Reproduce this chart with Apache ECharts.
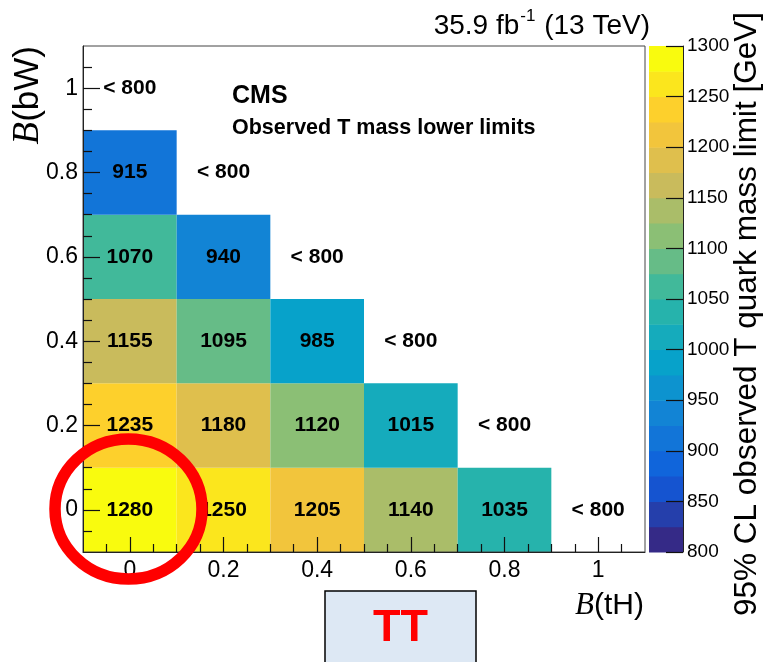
<!DOCTYPE html>
<html><head><meta charset="utf-8">
<script src="https://cdn.jsdelivr.net/npm/echarts@6/dist/echarts.min.js"></script>
<style>html,body{margin:0;padding:0;background:#fff}#c{width:764px;height:662px}</style>
</head><body><div id="c"></div>
<script>
// ---- data ----
const tHValues = [0, 0.2, 0.4, 0.6, 0.8, 1.0];
const bWValues = [0, 0.2, 0.4, 0.6, 0.8, 1.0];
// observed T mass lower limits [GeV]; row index = B(bW), column index = B(tH); null = "< 800"
const limitRows = [
  [1280, 1250, 1205, 1140, 1035, null],
  [1235, 1180, 1120, 1015, null],
  [1155, 1095, 985, null],
  [1070, 940, null],
  [915, null],
  [null]
];
const majorTicks = [0, 0.2, 0.4, 0.6, 0.8, 1.0];
const minorTicks = [-0.05, 0.05, 0.1, 0.15, 0.25, 0.3, 0.35, 0.45, 0.5, 0.55, 0.65, 0.7, 0.75, 0.85, 0.9, 0.95, 1.05];
const colorbarEdges = [800, 825, 850, 875, 900, 925, 950, 975, 1000, 1025, 1050, 1075, 1100, 1125, 1150, 1175, 1200, 1225, 1250, 1275, 1300];
const lowLabel = '< 800';

// ---- build ----
const cells = [], lowCells = [];
limitRows.forEach((row, r) => row.forEach((v, c) => {
  if (v === null) lowCells.push([tHValues[c], bWValues[r]]);
  else cells.push([tHValues[c], bWValues[r], v]);
}));
const halfBin = 0.1;

// ROOT kBird palette
const birdR = [0.2082, 0.0592, 0.0780, 0.0232, 0.1802, 0.5301, 0.8186, 0.9956, 0.9764];
const birdG = [0.1664, 0.3599, 0.5041, 0.6419, 0.7178, 0.7492, 0.7328, 0.7862, 0.9832];
const birdB = [0.5293, 0.8684, 0.8385, 0.7914, 0.6425, 0.4662, 0.3499, 0.1968, 0.0539];
function bird(t) {
  const s = t * 8, i = Math.min(7, Math.floor(s)), f = s - i;
  const c = a => Math.round(255 * (a[i] + (a[i + 1] - a[i]) * f));
  return 'rgb(' + c(birdR) + ',' + c(birdG) + ',' + c(birdB) + ')';
}
const nBands = colorbarEdges.length - 1;
const pieces = [];
for (let i = 0; i < nBands; i++) {
  const p = { gte: colorbarEdges[i], color: bird(i / (nBands - 1)) };
  if (i === nBands - 1) p.lte = colorbarEdges[i + 1]; else p.lt = colorbarEdges[i + 1];
  pieces.push(p);
}
const bandData = [];
for (let i = 0; i < nBands; i++) bandData.push([0.5, colorbarEdges[i], colorbarEdges[i], colorbarEdges[i + 1]]);

const SANS = '"Liberation Sans", Arial, Helvetica, sans-serif';
const SERIF = '"Liberation Serif", "Times New Roman", serif';

const chart = echarts.init(document.getElementById('c'));
const tickFmt = v => String(+(+v).toFixed(2));

chart.setOption({
  animation: false,
  backgroundColor: '#fff',
  grid: [
    { left: 83, top: 46, width: 562, height: 506, show: true, borderColor: '#444', borderWidth: 1, backgroundColor: 'transparent', z: 5 },
    { left: 649, top: 46, width: 34, height: 506, show: false }
  ],
  visualMap: { type: 'piecewise', show: false, dimension: 2, seriesIndex: [0, 2], pieces: pieces },
  xAxis: [
    { gridIndex: 0, type: 'value', min: -0.1, max: 1.1, position: 'bottom',
      axisLine: { show: true, onZero: false, lineStyle: { color: '#222', width: 1 } },
      axisTick: { show: true, inside: true, length: 15, customValues: majorTicks, lineStyle: { color: '#111', width: 1.2 } },
      axisLabel: { show: true, customValues: majorTicks, formatter: tickFmt, fontSize: 23, fontFamily: SANS, color: '#000', margin: 7 },
      splitLine: { show: false }, z: 10 },
    { gridIndex: 0, type: 'value', min: -0.1, max: 1.1, position: 'bottom',
      axisLine: { show: false, onZero: false },
      axisTick: { show: true, inside: true, length: 8, customValues: minorTicks, lineStyle: { color: '#111', width: 1.2 } },
      axisLabel: { show: false }, splitLine: { show: false }, z: 10 },
    { gridIndex: 1, type: 'value', min: 0, max: 1, show: false, axisLine: { onZero: false } }
  ],
  yAxis: [
    { gridIndex: 0, type: 'value', min: -0.1, max: 1.1, position: 'left',
      axisLine: { show: true, onZero: false, lineStyle: { color: '#222', width: 1 } },
      axisTick: { show: true, inside: true, length: 17, customValues: majorTicks, lineStyle: { color: '#111', width: 1.2 } },
      axisLabel: { show: true, customValues: majorTicks, formatter: tickFmt, fontSize: 23, fontFamily: SANS, color: '#000', margin: 5 },
      splitLine: { show: false }, z: 10 },
    { gridIndex: 0, type: 'value', min: -0.1, max: 1.1, position: 'left',
      axisLine: { show: false, onZero: false },
      axisTick: { show: true, inside: true, length: 9, customValues: minorTicks, lineStyle: { color: '#111', width: 1.2 } },
      axisLabel: { show: false }, splitLine: { show: false }, z: 10 },
    { gridIndex: 1, type: 'value', min: 800, max: 1300, interval: 50, position: 'right',
      axisLine: { show: true, onZero: false, lineStyle: { color: '#222', width: 1 } },
      axisTick: { show: true, inside: true, length: 17, lineStyle: { color: '#111', width: 1.2 } },
      axisLabel: { show: true, formatter: v => String(v), fontSize: 19, fontFamily: SANS, color: '#000', margin: 4 },
      splitLine: { show: false }, z: 10 }
  ],
  series: [
    { type: 'custom', xAxisIndex: 0, yAxisIndex: 0, data: cells, z: 2,
      renderItem: function (params, api) {
        const x = api.value(0), y = api.value(1), v = api.value(2);
        const p0 = api.coord([x - halfBin, y + halfBin]);
        const p1 = api.coord([x + halfBin, y - halfBin]);
        return { type: 'rect',
          shape: { x: p0[0], y: p0[1], width: p1[0] - p0[0], height: p1[1] - p0[1] },
          style: { fill: api.visual('color') },
          textContent: { style: { text: String(v), font: 'bold 21px ' + SANS, fill: '#000' } },
          textConfig: { position: 'inside' } };
      } },
    { type: 'custom', xAxisIndex: 0, yAxisIndex: 0, data: lowCells, z: 3,
      renderItem: function (params, api) {
        const p = api.coord([api.value(0), api.value(1)]);
        return { type: 'text', x: p[0], y: p[1],
          style: { text: lowLabel, font: 'bold 21px ' + SANS, fill: '#000', align: 'center', verticalAlign: 'middle' } };
      } },
    { type: 'custom', xAxisIndex: 2, yAxisIndex: 2, data: bandData, z: 2,
      renderItem: function (params, api) {
        const p0 = api.coord([0, api.value(3)]);
        const p1 = api.coord([1, api.value(2)]);
        return { type: 'rect',
          shape: { x: p0[0], y: p0[1], width: p1[0] - p0[0], height: p1[1] - p0[1] + 0.5 },
          style: { fill: api.visual('color') } };
      } }
  ],
  graphic: [
    { type: 'text', right: 114, top: 8, z: 20,
      style: { text: '{a|35.9 fb}{s|-1}{a| (13 TeV)}', fill: '#000',
        rich: { a: { fontSize: 28, fontFamily: SANS, lineHeight: 32, verticalAlign: 'bottom' },
                s: { fontSize: 17, fontFamily: SANS, lineHeight: 32, verticalAlign: 'top', padding: [0, 1, 12, 1] } } } },
    { type: 'text', x: 232, y: 96, z: 20,
      style: { text: 'CMS', font: 'bold 25px ' + SANS, fill: '#000', verticalAlign: 'middle' } },
    { type: 'text', x: 232, y: 128, z: 20,
      style: { text: 'Observed T mass lower limits', font: 'bold 21.5px ' + SANS, fill: '#000', verticalAlign: 'middle' } },
    { type: 'text', x: 644, y: 606, z: 20,
      style: { text: '{b|B}{t|(tH)}', align: 'right', verticalAlign: 'middle', fill: '#000',
        rich: { b: { fontSize: 31, fontFamily: SERIF, fontStyle: 'italic' }, t: { fontSize: 30, fontFamily: SANS } } } },
    { type: 'text', x: 28, y: 46, rotation: Math.PI / 2, z: 20,
      style: { text: '{b|B}{t|(bW)}', align: 'right', verticalAlign: 'middle', fill: '#000',
        rich: { b: { fontSize: 37, fontFamily: SERIF, fontStyle: 'italic' }, t: { fontSize: 35, fontFamily: SANS } } } },
    { type: 'text', x: 747, y: 12, rotation: Math.PI / 2, z: 20,
      style: { text: '95% CL observed T quark mass limit [GeV]', font: '31.5px ' + SANS, fill: '#000', align: 'right', verticalAlign: 'middle' } },
    { type: 'ellipse', z: 30, shape: { cx: 128.5, cy: 509, rx: 73.5, ry: 70 },
      style: { fill: 'none', stroke: '#ff0000', lineWidth: 11.5 } },
    { type: 'rect', z: 30, shape: { x: 325, y: 591, width: 151, height: 80 },
      style: { fill: '#dde8f4', stroke: '#000', lineWidth: 1.5 } },
    { type: 'text', x: 400.5, y: 629, z: 31,
      style: { text: 'TT', font: 'bold 45px ' + SANS, fill: '#ff0000', align: 'center', verticalAlign: 'middle' } }
  ]
});
</script>
</body></html>
